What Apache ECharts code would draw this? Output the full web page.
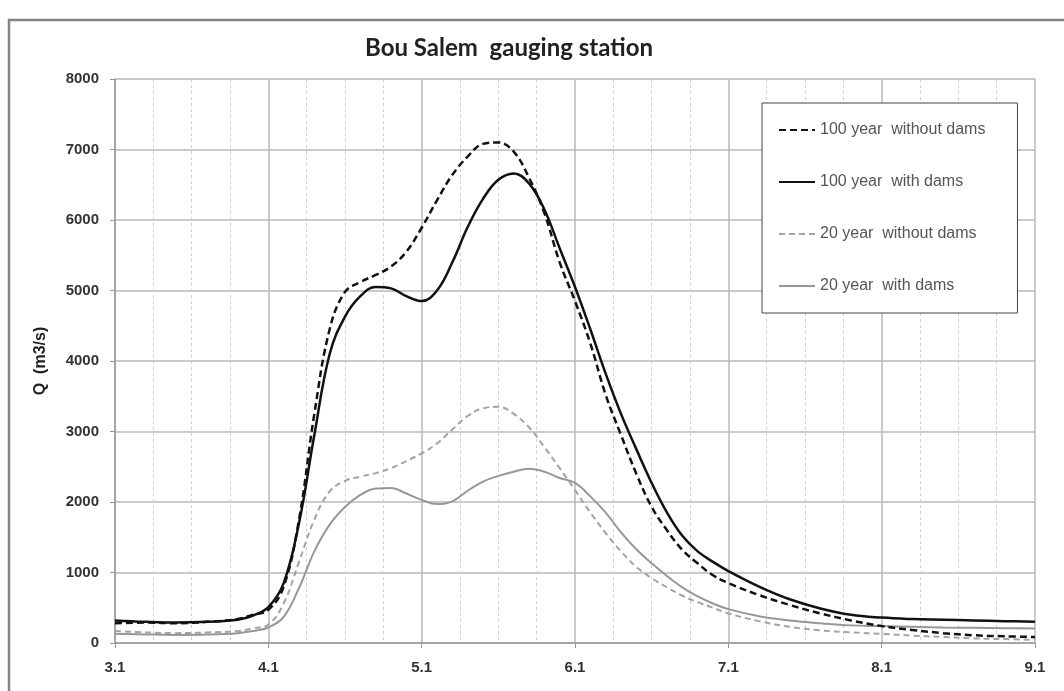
<!DOCTYPE html>
<html>
<head>
<meta charset="utf-8">
<script src="https://cdn.jsdelivr.net/npm/echarts@6/dist/echarts.min.js"></script>
<style>
  html, body { margin: 0; padding: 0; background: #fff; }
  #chart { width: 1064px; height: 691px; }
</style>
</head>
<body>
<div id="chart"></div>
<script>
// time axis (days), first tick is 3.1
const T0 = 3.1
const times = [3.1, 3.3, 3.5, 3.7, 3.9, 4.0, 4.1, 4.2, 4.3, 4.4, 4.5, 4.6, 4.7, 4.8, 4.9, 5.0,
  5.1, 5.2, 5.3, 5.4, 5.5, 5.6, 5.7, 5.8, 5.9, 6.0, 6.1, 6.2, 6.3, 6.4, 6.5, 6.6, 6.7, 6.8,
  6.9, 7.0, 7.1, 7.3, 7.5, 7.7, 7.9, 8.1, 8.3, 8.5, 8.7, 8.9, 9.1]

const q100NoDams = [280, 290, 280, 300, 340, 400, 470, 800, 1750, 3250, 4450, 4980, 5120, 5220, 5340, 5550,
  5890, 6280, 6640, 6900, 7080, 7100, 6970, 6600, 6100, 5400, 4850, 4250, 3520, 2950, 2400, 1930, 1600, 1320,
  1130, 960, 850, 680, 540, 420, 320, 240, 185, 140, 110, 95, 85]
const q100Dams = [320, 300, 290, 300, 330, 390, 510, 850, 1700, 2950, 4100, 4630, 4920, 5050, 5030, 4920,
  4850, 5000, 5400, 5900, 6300, 6570, 6660, 6520, 6150, 5600, 5050, 4450, 3820, 3250, 2750, 2270, 1850, 1520,
  1300, 1150, 1020, 800, 620, 490, 400, 360, 340, 330, 320, 310, 300]
const q20NoDams = [170, 150, 140, 150, 170, 210, 260, 560, 1150, 1750, 2150, 2300, 2360, 2410, 2480, 2580,
  2690, 2830, 3030, 3220, 3330, 3350, 3250, 3060, 2780, 2480, 2170, 1850, 1560, 1300, 1080, 920, 790, 670,
  580, 500, 420, 310, 230, 180, 150, 130, 105, 85, 65, 55, 45]
const q20Dams = [130, 120, 115, 120, 140, 170, 220, 370, 780, 1300, 1680, 1930, 2100, 2190, 2200, 2120,
  2030, 1970, 2010, 2160, 2290, 2370, 2430, 2470, 2430, 2340, 2270, 2080, 1850, 1570, 1330, 1130, 950, 790,
  660, 560, 480, 380, 320, 280, 250, 240, 230, 220, 215, 210, 205]

const seriesNames = ['100 year  without dams', '100 year  with dams', '20 year  without dams', '20 year  with dams']

function pairs (vals) {
  return times.map((t, i) => [+(t - T0).toFixed(2), vals[i]])
}

const myChart = echarts.init(document.getElementById('chart'))
const axisFont = {fontFamily: 'Liberation Sans, Arial', fontWeight: 'bold', fontSize: 15, color: '#333'}

let option = {
  backgroundColor: '#fff',
  animation: false,
  title: {
    text: 'Bou Salem  gauging station',
    left: 504,
    textAlign: 'center',
    top: 31,
    textStyle: {fontFamily: 'Lato', fontWeight: 'bold', fontSize: 24, color: '#222'}
  },
  graphic: [{
    type: 'rect',
    shape: {x: 9, y: 20, width: 1070, height: 690},
    style: {fill: 'none', stroke: '#858585', lineWidth: 2.5},
    silent: true
  }],
  legend: {
    orient: 'vertical',
    left: 762,
    top: 103,
    padding: [19, 32, 19, 16],
    itemGap: 36,
    itemWidth: 36,
    itemHeight: 14,
    borderColor: '#444',
    borderWidth: 1,
    backgroundColor: '#fff',
    itemStyle: {opacity: 0},
    data: seriesNames,
    textStyle: {fontFamily: 'Liberation Sans, Arial', fontSize: 16, color: '#555'}
  },
  grid: {left: 115, right: 29, top: 79, bottom: 48},
  xAxis: {
    type: 'value',
    min: 0,
    max: 6,
    interval: 1,
    axisLine: {lineStyle: {color: '#999', width: 1.5}},
    axisTick: {show: true, length: 5, lineStyle: {color: '#999'}},
    axisLabel: Object.assign({margin: 17, formatter: v => (v + T0).toFixed(1)}, axisFont),
    splitLine: {show: true, lineStyle: {color: '#b8b8b8', width: 1.5}},
    minorTick: {show: false, splitNumber: 4},
    minorSplitLine: {show: true, lineStyle: {color: '#cfcfcf', type: [3, 3], width: 1}}
  },
  yAxis: {
    type: 'value',
    min: 0,
    max: 8000,
    interval: 1000,
    name: 'Q  (m3/s)',
    nameLocation: 'middle',
    nameGap: 66,
    nameTextStyle: {fontFamily: 'Liberation Sans, Arial', fontWeight: 'bold', fontSize: 16, color: '#222'},
    axisLine: {show: true, lineStyle: {color: '#999', width: 1.5}},
    axisTick: {show: true, length: 5, lineStyle: {color: '#999'}},
    axisLabel: Object.assign({margin: 16, formatter: v => String(v)}, axisFont),
    splitLine: {show: true, lineStyle: {color: '#b8b8b8', width: 1.5}}
  },
  series: [
    {
      name: seriesNames[0], type: 'line', symbol: 'none', smooth: 0.4, z: 4,
      lineStyle: {color: '#111', width: 2.5, type: [7, 4]},
      itemStyle: {color: '#111'},
      data: pairs(q100NoDams)
    },
    {
      name: seriesNames[1], type: 'line', symbol: 'none', smooth: 0.4, z: 4,
      lineStyle: {color: '#111', width: 2.5, type: 'solid'},
      itemStyle: {color: '#111'},
      data: pairs(q100Dams)
    },
    {
      name: seriesNames[2], type: 'line', symbol: 'none', smooth: 0.4, z: 3,
      lineStyle: {color: '#a3a3a3', width: 2, type: [6, 4]},
      itemStyle: {color: '#a3a3a3'},
      data: pairs(q20NoDams)
    },
    {
      name: seriesNames[3], type: 'line', symbol: 'none', smooth: 0.4, z: 3,
      lineStyle: {color: '#979797', width: 2, type: 'solid'},
      itemStyle: {color: '#979797'},
      data: pairs(q20Dams)
    }
  ]
}
myChart.setOption(option)
</script>
</body>
</html>
